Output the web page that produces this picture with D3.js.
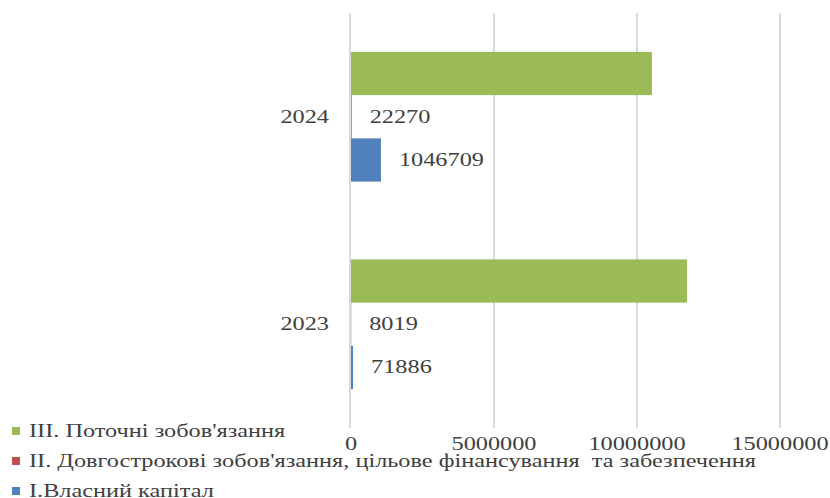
<!DOCTYPE html>
<html>
<head>
<meta charset="utf-8">
<script src="https://cdn.jsdelivr.net/npm/d3@7"></script>
<style>
  html, body { margin: 0; padding: 0; background: #fff; }
  svg { display: block; }
  svg text { font-family: "Liberation Serif", "Times New Roman", Times, serif; white-space: pre; }
</style>
</head>
<body>
<svg id="chart" width="830" height="498"></svg>
<script>
// Balance-sheet structure by year (UAH)
const categories = ["2024", "2023"];
const seriesNames = [
  "III. Поточні зобов'язання",
  "II. Довгострокові зобов'язання, цільове фінансування  та забезпечення",
  "I.Власний капітал"
];
const currentLiabilities = [10520000, 11750000];
const longTermLiabilities = [22270, 8019];
const equity = [1046709, 71886];
const seriesColors = ["#9BBB59", "#C0504D", "#4F81BD"];
const showLabels = [false, true, true];
const xTicks = [0, 5000000, 10000000, 15000000];

const seriesValues = [currentLiabilities, longTermLiabilities, equity];

const svg = d3.select("#chart");
const FS = 18;
const STRETCH = 1.35;
const TEXT = "#404040";

const x = d3.scaleLinear().domain([0, 15000000]).range([351, 780]);
const y0 = d3.scaleBand().domain(categories).range([13, 428]);
const y1 = d3.scaleBand().domain(d3.range(seriesNames.length))
  .range([0, y0.bandwidth()]).paddingInner(0).paddingOuter(0.9);

// horizontally widened serif text
function label(g, tx, ty, str, anchor) {
  return g.append("g")
    .attr("transform", `translate(${tx},${ty}) scale(${STRETCH},1)`)
    .append("text")
    .attr("text-anchor", anchor || "start")
    .attr("font-size", FS)
    .attr("fill", TEXT)
    .text(str);
}

// vertical gridlines
svg.append("g").selectAll("line").data(xTicks.slice(1)).join("line")
  .attr("x1", d => x(d)).attr("x2", d => x(d))
  .attr("y1", 13).attr("y2", 428)
  .attr("stroke", "#d9d9d9").attr("stroke-width", 2);

// bars
const groups = svg.append("g").selectAll("g").data(categories).join("g")
  .attr("transform", c => `translate(0,${y0(c)})`);

groups.each(function(c, ci) {
  const g = d3.select(this);
  seriesValues.forEach((vals, si) => {
    const v = vals[ci];
    g.append("rect")
      .attr("x", x(0))
      .attr("y", y1(si))
      .attr("width", Math.max(x(v) - x(0), 0))
      .attr("height", y1.bandwidth())
      .attr("fill", seriesColors[si]);
    if (showLabels[si]) {
      label(g, x(v) + 18, y1(si) + y1.bandwidth() / 2 + 6, String(v));
    }
  });
});

// zero line on top of the bars
svg.append("line")
  .attr("x1", x(0) - 1).attr("x2", x(0) - 1)
  .attr("y1", 13).attr("y2", 428)
  .attr("stroke", "#d9d9d9").attr("stroke-width", 2);

// category labels
categories.forEach(c => {
  label(svg, 329, y0(c) + y0.bandwidth() / 2 + 6, c, "end");
});

// x tick labels
xTicks.forEach(t => {
  label(svg, x(t), 450, String(t), "middle");
});

// legend
[0, 1, 2].forEach((si, i) => {
  const ly = 431 + i * 30;
  svg.append("rect")
    .attr("x", 12).attr("y", ly - 4)
    .attr("width", 8).attr("height", 8)
    .attr("fill", seriesColors[si]);
  label(svg, 29, ly + 6, seriesNames[si]);
});
</script>
</body>
</html>
